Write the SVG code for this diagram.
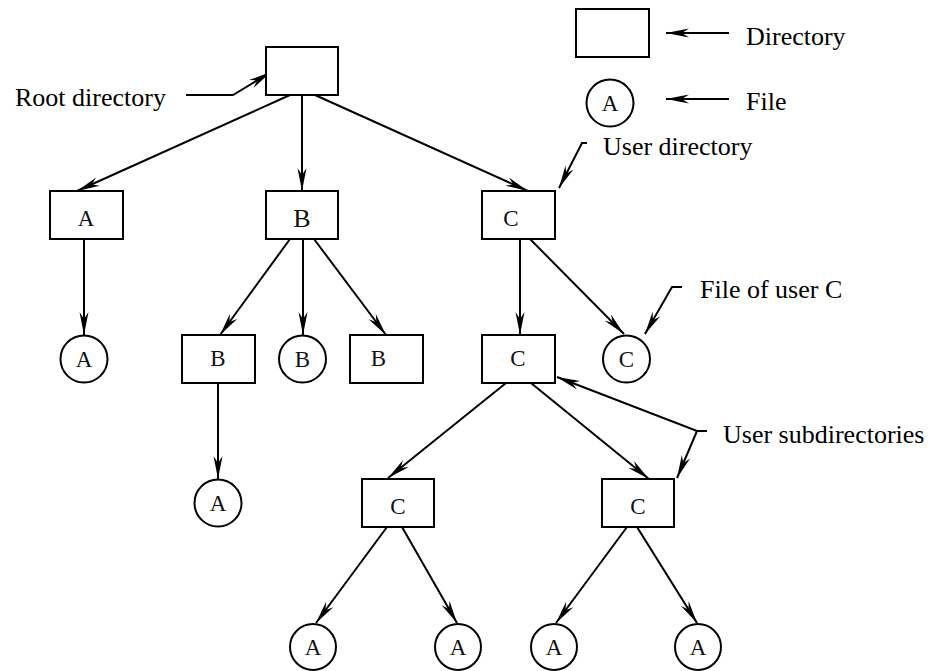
<svg xmlns="http://www.w3.org/2000/svg" width="934" height="671" viewBox="0 0 934 671">
<style>
.box{fill:#fff;stroke:#000;stroke-width:2}
.file{fill:#fff;stroke:#000;stroke-width:2}
.edge{fill:none;stroke:#000;stroke-width:2;marker-end:url(#ah)}
</style>
<defs>
<marker id="ah" markerUnits="userSpaceOnUse" viewBox="-24 -6 26 12" refX="0" refY="0" markerWidth="26" markerHeight="12" orient="auto">
<path d="M0,0 L-23,-4.5 L-16,0 L-23,4.5 Z" fill="#000"/>
</marker>
</defs>
<rect width="934" height="671" fill="#fff"/>
<g id="connectors">
<path class="edge" d="M290,95 L77,191"/>
<path class="edge" d="M302,95 L302,191"/>
<path class="edge" d="M315,95 L528,191"/>
<path class="edge" d="M84,239 L84,335"/>
<path class="edge" d="M290,239 L220,335"/>
<path class="edge" d="M303,239 L303,335"/>
<path class="edge" d="M314,239 L386,335"/>
<path class="edge" d="M218,383 L218,479"/>
<path class="edge" d="M520,239 L520,335"/>
<path class="edge" d="M530,239 L624,334"/>
<path class="edge" d="M506,383 L388,478"/>
<path class="edge" d="M531,383 L649,479"/>
<path class="edge" d="M387,527 L316,623"/>
<path class="edge" d="M402,527 L457,623"/>
<path class="edge" d="M627,527 L556,623"/>
<path class="edge" d="M637,527 L697,623"/>
<path class="edge" d="M186,95 L233,95 L271,72"/>
<path class="edge" d="M729,33 L666,33"/>
<path class="edge" d="M729,99 L666,99"/>
<path class="edge" d="M587,143 L582,143 L559,188"/>
<path class="edge" d="M682,287 L672,287 L645,334"/>
<path class="edge" d="M707,431 L697,431 L557,377"/>
<path class="edge" d="M697,431 L677,478"/>
</g>
<g font-family="Liberation Serif, Times New Roman, serif" font-size="23" text-anchor="middle" fill="#111">
<g id="root"><rect class="box" x="266" y="47" width="72" height="48"/></g>
<g id="dirA"><rect class="box" x="50" y="191" width="73" height="48"/><text x="86" y="226">A</text></g>
<g id="dirB"><rect class="box" x="266" y="191" width="72" height="48"/><text x="302" y="227" font-size="26">B</text></g>
<g id="dirC"><rect class="box" x="482" y="191" width="73" height="48"/><text x="511" y="226">C</text></g>
<g id="fileA1"><circle class="file" cx="84" cy="359" r="23.5"/><text x="84" y="367">A</text></g>
<g id="dirB2"><rect class="box" x="182" y="335" width="73" height="48"/><text x="218" y="366">B</text></g>
<g id="fileB"><circle class="file" cx="302.5" cy="359" r="23.5"/><text x="302.5" y="367">B</text></g>
<g id="dirB3"><rect class="box" x="350" y="335" width="73" height="48"/><text x="378.5" y="366">B</text></g>
<g id="dirC2"><rect class="box" x="482" y="335" width="73" height="48"/><text x="518" y="366">C</text></g>
<g id="fileC"><circle class="file" cx="626.5" cy="359" r="23.5"/><text x="626.5" y="367">C</text></g>
<g id="fileA2"><circle class="file" cx="218" cy="503" r="23.5"/><text x="218" y="511">A</text></g>
<g id="dirC3"><rect class="box" x="362" y="479" width="72" height="48"/><text x="398" y="514">C</text></g>
<g id="dirC4"><rect class="box" x="602" y="479" width="72" height="48"/><text x="638" y="514">C</text></g>
<g id="fileA3"><circle class="file" cx="313" cy="647" r="23"/><text x="313" y="655">A</text></g>
<g id="fileA4"><circle class="file" cx="458" cy="647" r="23"/><text x="458" y="655">A</text></g>
<g id="fileA5"><circle class="file" cx="554" cy="647" r="23"/><text x="554" y="655">A</text></g>
<g id="fileA6"><circle class="file" cx="698" cy="647" r="23"/><text x="698" y="655">A</text></g>
<g id="legendDir"><rect class="box" x="576" y="9" width="73" height="48"/></g>
<g id="legendFile"><circle class="file" cx="610" cy="103" r="23.5"/><text x="610" y="111">A</text></g>
</g>
<g id="labels" font-family="Liberation Serif, Times New Roman, serif" font-size="26" fill="#000">
<text x="15" y="106">Root directory</text>
<text x="746" y="45">Directory</text>
<text x="746" y="110">File</text>
<text x="603" y="155">User directory</text>
<text x="700" y="298">File of user C</text>
<text x="723" y="443">User subdirectories</text>
</g>
</svg>
